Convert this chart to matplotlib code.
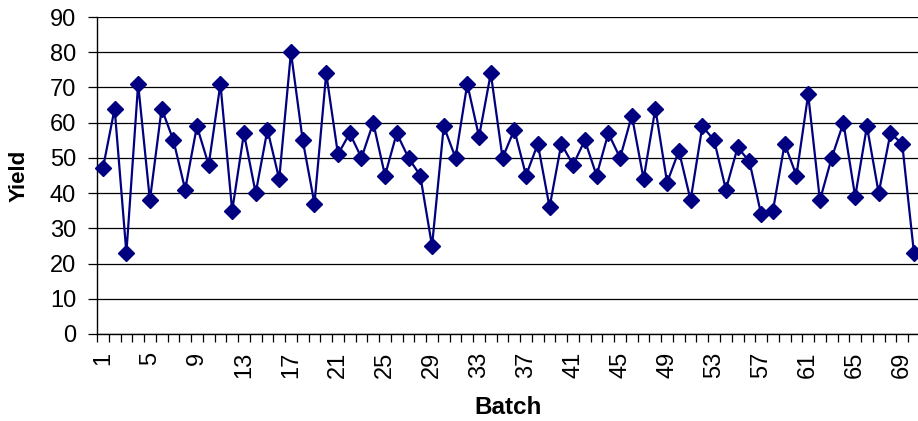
"""Yield per batch line chart (70 batches) written to out.png."""
import numpy as np
import matplotlib
matplotlib.use("Agg")
import matplotlib.pyplot as plt
from matplotlib.ticker import FixedLocator

plt.rcParams["font.family"] = ["Liberation Sans", "DejaVu Sans"]

batch = np.arange(1, 71)
yields = [47, 64, 23, 71, 38, 64, 55, 41, 59, 48,
          71, 35, 57, 40, 58, 44, 80, 55, 37, 74,
          51, 57, 50, 60, 45, 57, 50, 45, 25, 59,
          50, 71, 56, 74, 50, 58, 45, 54, 36, 54,
          48, 55, 45, 57, 50, 62, 44, 64, 43, 52,
          38, 59, 55, 41, 53, 49, 34, 35, 54, 45,
          68, 38, 50, 60, 39, 59, 40, 57, 54, 23]
label_batches = batch[::4]          # 1, 5, 9, ... 69
yticks = np.arange(0, 100, 10)

fig = plt.figure(figsize=(9.18, 4.21), dpi=100)
ax = fig.add_axes([97 / 918, 1 - 334 / 421, 1 - 97 / 918 + 0.002, (334 - 17) / 421])

ax.plot(batch, yields, color="#000080", lw=1.6, marker="D", ms=8,
        mfc="#000080", mec="#000080", zorder=3, clip_on=False)

ax.set_xlim(0.5, 70.5)
ax.set_ylim(0, 90)
ax.set_yticks(yticks)
ax.yaxis.grid(True, color="black", lw=0.9)
ax.set_axisbelow(True)

# labelled positions carry no tick mark; the marks sit between categories
ax.set_xticks(label_batches)
ax.set_xticklabels([str(b) for b in label_batches], rotation=90, va="top")
ax.xaxis.set_minor_locator(FixedLocator(np.arange(0.5, 71, 1.0)))
ax.tick_params(axis="x", which="major", length=0, pad=13, labelsize=17)
ax.tick_params(axis="x", which="minor", length=6, width=0.9, direction="out")
ax.tick_params(axis="y", length=6.5, width=0.9, pad=8.5, labelsize=17)

for side in ("top", "right"):
    ax.spines[side].set_visible(False)
for side in ("left", "bottom"):
    ax.spines[side].set_linewidth(1.0)

ax.set_xlabel("Batch", fontsize=17.5, fontweight="bold")
ax.set_ylabel("Yield", fontsize=16, fontweight="bold")
ax.xaxis.set_label_coords(0.5, (334 - 396) / 317)
ax.yaxis.set_label_coords((30 - 97) / 821, 0.5)

fig.savefig("out.png", dpi=100)
